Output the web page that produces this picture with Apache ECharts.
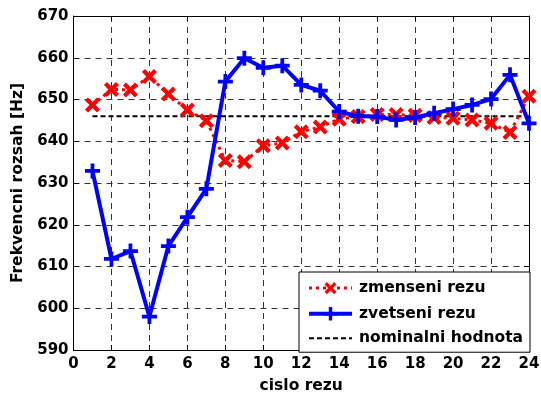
<!DOCTYPE html>
<html><head><meta charset="utf-8">
<script src="https://cdn.jsdelivr.net/npm/echarts@6/dist/echarts.min.js"></script>
<style>html,body{margin:0;padding:0;background:#fff}#c{width:541px;height:394px}</style>
</head><body><div id="c"></div>
<script>
const cuts = [1,2,3,4,5,6,7,8,9,10,11,12,13,14,15,16,17,18,19,20,21,22,23,24];
const zmenseni = [648.7,652.4,652.3,655.5,651.3,647.5,644.9,635.4,635.1,638.9,639.6,642.3,643.4,645.3,645.9,646.4,646.4,646.2,645.7,645.5,645.1,644.3,642.1,650.8];
const zvetseni = [632.9,611.8,613.7,598.0,614.9,621.8,628.6,654.3,659.9,657.6,658.1,653.5,652.1,647.1,646.0,645.9,645.1,645.7,646.7,647.7,648.7,650.1,655.9,644.3];
const nominal = 646;
const names = ['zmenseni rezu','zvetseni rezu','nominalni hodnota'];
const xTitle = 'cislo rezu';
const yTitle = 'Frekvencni rozsah [Hz]';

const FONT = 'DejaVu Sans';
const plus = 'path://M6,0H10V6H16V10H10V16H6V10H0V6H6Z';
const pair = a => cuts.map((c,i)=>[c,a[i]]);
const gridLine = {show:true,lineStyle:{color:'#333',type:[6,5],width:1}};
const lbl = {color:'#000',fontFamily:FONT,fontWeight:'bold',fontSize:15};
const ttl = {color:'#000',fontFamily:FONT,fontWeight:'bold',fontSize:15.5};
const chart = echarts.init(document.getElementById('c'));
chart.setOption({
  animation:false,
  grid:{left:73.5,right:12,top:16,bottom:44,containLabel:false,outerBoundsMode:'none'},
  xAxis:[{type:'value',min:0,max:24,interval:2,
    axisLine:{lineStyle:{color:'#000',width:1}},
    axisTick:{inside:true,length:5,lineStyle:{color:'#000'}},
    axisLabel:Object.assign({margin:7},lbl),
    splitLine:gridLine,
    name:xTitle,nameLocation:'middle',nameGap:28,nameTextStyle:ttl},
   {type:'value',position:'top',min:0,max:24,interval:2,
    axisLine:{show:true,onZero:false,lineStyle:{color:'#000',width:1}},
    axisTick:{inside:true,length:5,lineStyle:{color:'#000'}},
    axisLabel:{show:false},splitLine:{show:false}}],
  yAxis:[{type:'value',min:590,max:670,interval:10,
    axisLine:{show:true,lineStyle:{color:'#000',width:1}},
    axisTick:{show:true,inside:true,length:5,lineStyle:{color:'#000'}},
    axisLabel:Object.assign({margin:5},lbl),
    splitLine:gridLine,
    name:yTitle,nameLocation:'middle',nameGap:46,nameTextStyle:ttl},
   {type:'value',position:'right',min:590,max:670,interval:10,
    axisLine:{show:true,onZero:false,lineStyle:{color:'#000',width:1}},
    axisTick:{show:true,inside:true,length:5,lineStyle:{color:'#000'}},
    axisLabel:{show:false},splitLine:{show:false}}],
  legend:{orient:'vertical',left:299,top:272,
    backgroundColor:'#fff',borderColor:'#000',borderWidth:1,borderRadius:0,
    padding:[6.5,7,5.5,8],itemGap:7.5,itemWidth:43,itemHeight:17,
    textStyle:Object.assign({lineHeight:17,padding:[0,0,0,2]},ttl),
    data:[
      {name:names[0],lineStyle:{width:3}},
      {name:names[1],lineStyle:{width:4}},
      {name:names[2],lineStyle:{width:2},itemStyle:{color:'transparent',borderWidth:0}}
    ]},
  series:[
    {name:names[0],type:'line',data:pair(zmenseni),symbol:plus,symbolSize:17,symbolRotate:45,
     itemStyle:{color:'#ff0000'},lineStyle:{color:'#ff0000',width:3,type:[3,4]},z:3},
    {name:names[1],type:'line',data:pair(zvetseni),symbol:plus,symbolSize:15,
     itemStyle:{color:'#0000ff'},lineStyle:{color:'#0000ff',width:4},z:4},
    {name:names[2],type:'line',data:pair(cuts.map(()=>nominal)),symbol:'none',
     lineStyle:{color:'#000',width:2,type:[5,3]},z:2}
  ]
});
</script></body></html>
